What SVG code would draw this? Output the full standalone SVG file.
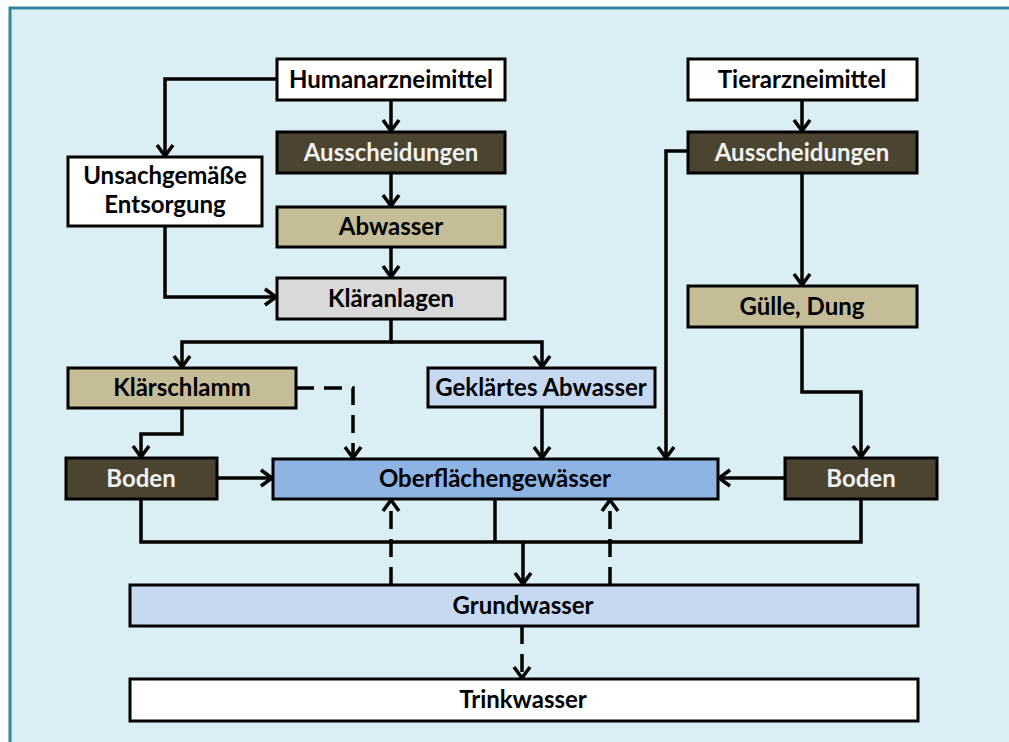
<svg xmlns="http://www.w3.org/2000/svg" width="1009" height="742" viewBox="0 0 1009 742">
<defs>
<marker id="arr" markerUnits="userSpaceOnUse" markerWidth="30" markerHeight="30" viewBox="-15 -15 30 30" refX="0" refY="0" orient="auto">
<path d="M-11,-8 L0,0 L-11,8" fill="none" stroke="#000" stroke-width="3.5" stroke-linejoin="miter"/>
</marker>
</defs>
<style>
.box{stroke:#000;stroke-width:3}
.white{fill:#FFFFFF}
.dark{fill:#4A4430}
.tan{fill:#C4BD97}
.gray{fill:#D9D9D9}
.blue{fill:#8EB4E3}
.lblue{fill:#C6D9F1}
text{font-family:Lato,"Liberation Sans",sans-serif;font-weight:bold;font-size:24px;text-anchor:middle;fill:#000}
text.lt{fill:#F2F2F2}
.c{fill:none;stroke:#000;stroke-width:3.5}
.d{stroke-dasharray:18 10}
</style>
<rect x="0" y="0" width="1009" height="742" fill="#FFFFFF"/>
<rect x="10" y="8" width="1030" height="780" fill="#DAEEF3" stroke="#31859C" stroke-width="3"/>

<g id="connectors">
<path class="c" d="M277,79 H165 V156" marker-end="url(#arr)"/>
<path class="c" d="M391,100 V131" marker-end="url(#arr)"/>
<path class="c" d="M391,173 V206" marker-end="url(#arr)"/>
<path class="c" d="M391,247 V277" marker-end="url(#arr)"/>
<path class="c" d="M165,226 V297 H276" marker-end="url(#arr)"/>
<path class="c" d="M391,319 V342 H182 V367" marker-end="url(#arr)"/>
<path class="c" d="M391,342 H542 V367" marker-end="url(#arr)"/>
<path class="c" d="M182,408 V434 H141 V457" marker-end="url(#arr)"/>
<path class="c d" d="M296,388 H353 V458" marker-end="url(#arr)"/>
<path class="c" d="M542,407 V458" marker-end="url(#arr)"/>
<path class="c" d="M217,478 H272" marker-end="url(#arr)"/>
<path class="c" d="M802,100 V131" marker-end="url(#arr)"/>
<path class="c" d="M802,173 V285" marker-end="url(#arr)"/>
<path class="c" d="M688,151 H666 V458" marker-end="url(#arr)"/>
<path class="c" d="M802,327 V392 H861 V457" marker-end="url(#arr)"/>
<path class="c" d="M785,478 H719" marker-end="url(#arr)"/>
<path class="c" d="M141,499 V542 H861 V499"/>
<path class="c" d="M495,499 V542"/>
<path class="c" d="M523,542 V584" marker-end="url(#arr)"/>
<path class="c d" d="M391,585 V500" marker-end="url(#arr)"/>
<path class="c d" d="M610,585 V500" marker-end="url(#arr)"/>
<path class="c d" d="M522,626 V678" marker-end="url(#arr)"/>
</g>

<g id="humanarzneimittel"><rect class="box white" x="277" y="59" width="228" height="41"/><text x="391" y="88">Humanarzneimittel</text></g>
<g id="ausscheidungen-human"><rect class="box dark" x="277" y="132" width="228" height="41"/><text class="lt" x="391" y="161">Ausscheidungen</text></g>
<g id="abwasser"><rect class="box tan" x="277" y="207" width="228" height="40"/><text x="391" y="235">Abwasser</text></g>
<g id="klaeranlagen"><rect class="box gray" x="277" y="278" width="228" height="41"/><text x="391" y="307">Kläranlagen</text></g>
<g id="unsachgemaesse-entsorgung"><rect class="box white" x="68" y="157" width="194" height="69"/><text x="165" y="184">Unsachgemäße</text><text x="165" y="213">Entsorgung</text></g>
<g id="tierarzneimittel"><rect class="box white" x="688" y="59" width="229" height="41"/><text x="802" y="88">Tierarzneimittel</text></g>
<g id="ausscheidungen-tier"><rect class="box dark" x="688" y="132" width="229" height="41"/><text class="lt" x="802" y="161">Ausscheidungen</text></g>
<g id="guelle-dung"><rect class="box tan" x="688" y="286" width="229" height="41"/><text x="802" y="315">Gülle, Dung</text></g>
<g id="klaerschlamm"><rect class="box tan" x="68" y="368" width="228" height="40"/><text x="182" y="396">Klärschlamm</text></g>
<g id="geklaertes-abwasser"><rect class="box lblue" x="428" y="368" width="227" height="39"/><text x="541" y="396">Geklärtes Abwasser</text></g>
<g id="boden-links"><rect class="box dark" x="66" y="458" width="151" height="41"/><text class="lt" x="141" y="487">Boden</text></g>
<g id="oberflaechengewaesser"><rect class="box blue" x="273" y="459" width="445" height="40"/><text x="495" y="487">Oberflächengewässer</text></g>
<g id="boden-rechts"><rect class="box dark" x="785" y="458" width="152" height="41"/><text class="lt" x="861" y="487">Boden</text></g>
<g id="grundwasser"><rect class="box lblue" x="130" y="585" width="788" height="41"/><text x="523" y="614">Grundwasser</text></g>
<g id="trinkwasser"><rect class="box white" x="130" y="679" width="788" height="42"/><text x="523" y="708">Trinkwasser</text></g>
</svg>
